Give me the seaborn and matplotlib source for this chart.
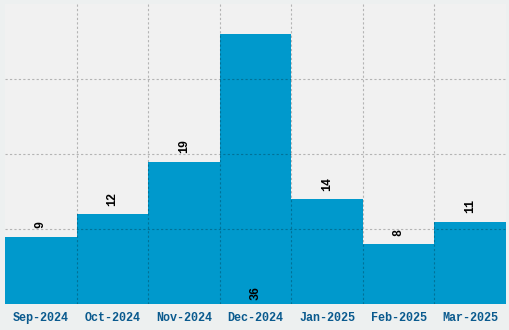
import matplotlib
matplotlib.use("Agg")
import matplotlib.pyplot as plt
import seaborn as sns
import pandas as pd

months = ["Sep-2024", "Oct-2024", "Nov-2024", "Dec-2024", "Jan-2025", "Feb-2025", "Mar-2025"]
counts = [9, 12, 19, 36, 14, 8, 11]

df = pd.DataFrame({"month": months, "count": counts})

sns.set_theme(style="white")
plt.rcParams["font.family"] = ["Liberation Mono", "DejaVu Sans Mono"]

fig = plt.figure(figsize=(5.1, 3.3), dpi=100, facecolor="#edf0f0")
ax = fig.add_axes([5 / 510, 26 / 330, 501 / 510, 300 / 330])
ax.set_facecolor("#f1f1f1")

sns.barplot(data=df, x="month", y="count", color="#0099cc", width=1.0,
            saturation=1, ax=ax, edgecolor="none", linewidth=0)
for p in ax.patches:
    p.set_zorder(1)

ax.set_ylim(0, 40)
ax.set_xlim(-0.5, len(months) - 0.5)
ax.set_yticks([10, 20, 30])
ax.set_yticklabels([])
ax.tick_params(axis="y", length=0)
ax.set_xticks(range(len(months)))
ax.set_xticks([i + 0.5 for i in range(len(months) - 1)], minor=True)
ax.tick_params(axis="x", which="both", length=0, pad=6)
ax.set_xticklabels(months, fontsize=8.5, fontweight="bold", color="#0a5a8e")
ax.set_xlabel("")
ax.set_ylabel("")
for s in ax.spines.values():
    s.set_visible(False)

ax.set_axisbelow(False)
grid_kw = dict(color="black", alpha=0.25, linestyle=(0, (2, 2)), linewidth=0.8, zorder=3)
ax.grid(axis="y", which="major", **grid_kw)
ax.grid(axis="x", which="minor", **grid_kw)
ax.grid(axis="x", which="major", visible=False)

top = max(counts)
for i, v in enumerate(counts):
    if v == top:
        ax.annotate(str(v), (i, 0), xytext=(0, 3), textcoords="offset points",
                    ha="center", va="bottom", rotation=90, fontsize=8.5,
                    fontweight="bold", color="black", zorder=4)
    else:
        ax.annotate(str(v), (i, v), xytext=(0, 6), textcoords="offset points",
                    ha="center", va="bottom", rotation=90, fontsize=8.5,
                    fontweight="bold", color="black", zorder=4)

fig.savefig("out.png", dpi=100, facecolor=fig.get_facecolor())
